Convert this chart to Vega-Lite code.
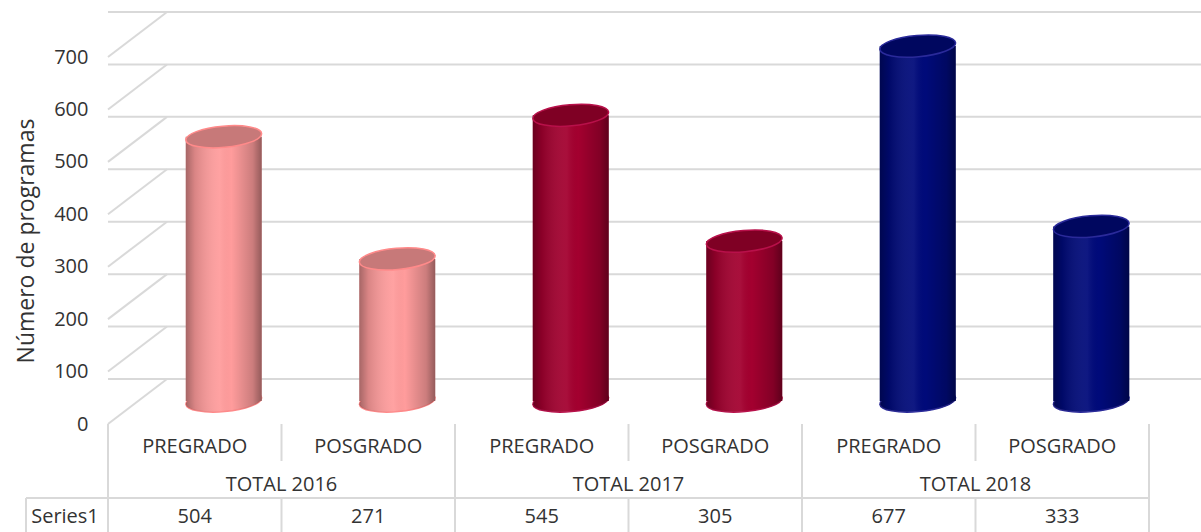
{
  "$schema": "https://vega.github.io/schema/vega-lite/v6.json",
  "width": 1041,
  "height": 367,
  "autosize": {"type": "none"},
  "padding": {"left": 108, "top": 57, "right": 52, "bottom": 108},
  "background": "white",
  "config": {
    "view": {"stroke": null},
    "font": "Open Sans",
    "axis": {
      "labelFont": "Open Sans", "labelFontSize": 20, "labelColor": "#333333",
      "titleFont": "Open Sans", "titleFontSize": 23, "titleFontWeight": "normal", "titleColor": "#333333"
    },
    "axisY": {"ticks": false, "domain": false, "grid": false, "labelPadding": 20, "titlePadding": 15}
  },
  "datasets": {
    "bars": [
      {"cat": "2016 PREGRADO", "level": "PREGRADO", "group": "TOTAL 2016", "value": 504},
      {"cat": "2016 POSGRADO", "level": "POSGRADO", "group": "TOTAL 2016", "value": 271},
      {"cat": "2017 PREGRADO", "level": "PREGRADO", "group": "TOTAL 2017", "value": 545},
      {"cat": "2017 POSGRADO", "level": "POSGRADO", "group": "TOTAL 2017", "value": 305},
      {"cat": "2018 PREGRADO", "level": "PREGRADO", "group": "TOTAL 2018", "value": 677},
      {"cat": "2018 POSGRADO", "level": "POSGRADO", "group": "TOTAL 2018", "value": 333}
    ],
    "grid": [{"v": 0}, {"v": 100}, {"v": 200}, {"v": 300}, {"v": 400}, {"v": 500}, {"v": 600}, {"v": 700}],
    "series": [{"series": "Series1"}]
  },
  "data": {"name": "bars"},
  "layer": [
    {
      "data": {"name": "grid"},
      "mark": {"type": "rule", "color": "#d9d9d9", "strokeWidth": 2, "xOffset": 59, "x2Offset": 59, "yOffset": -45},
      "encoding": {
        "y": {"field": "v", "type": "quantitative", "scale": {"domain": [0, 700], "nice": false},
          "axis": {"title": "Número de programas", "values": [0, 100, 200, 300, 400, 500, 600, 700]}}
      }
    },
    {
      "data": {"name": "grid"},
      "mark": {"type": "rule", "color": "#d9d9d9", "strokeWidth": 2, "x2Offset": 59, "y2Offset": -45},
      "encoding": {
        "x": {"datum": "2016 PREGRADO", "type": "nominal", "bandPosition": 0, "axis": null,
          "scale": {"domain": ["2016 PREGRADO", "2016 POSGRADO", "2017 PREGRADO", "2017 POSGRADO", "2018 PREGRADO", "2018 POSGRADO"], "paddingInner": 0, "paddingOuter": 0}},
        "x2": {"datum": "2016 PREGRADO", "bandPosition": 0},
        "y": {"field": "v", "type": "quantitative"},
        "y2": {"field": "v"}
      }
    },
    {
      "mark": {"type": "point", "shape": "M-1,0A1,0.28,0,1,0,1,0A1,0.28,0,1,0,-1,0Z", "size": 5776, "filled": true, "opacity": 1, "strokeWidth": 1.5, "xOffset": 29, "yOffset": -23, "angle": 355},
      "encoding": {
        "x": {"field": "cat", "type": "nominal", "axis": null, "sort": null,
          "scale": {"domain": ["2016 PREGRADO", "2016 POSGRADO", "2017 PREGRADO", "2017 POSGRADO", "2018 PREGRADO", "2018 POSGRADO"], "paddingInner": 0, "paddingOuter": 0}},
        "y": {"datum": 0, "type": "quantitative"},
        "fill": {"field": "group", "type": "nominal", "legend": null,
          "scale": {"domain": ["TOTAL 2016", "TOTAL 2017", "TOTAL 2018"], "range": ["#ff9c9c", "#a3002f", "#000a7a"]}},
        "stroke": {"field": "group", "type": "nominal", "legend": null,
          "scale": {"domain": ["TOTAL 2016", "TOTAL 2017", "TOTAL 2018"], "range": ["#ff8a8a", "#b8104a", "#2a2a9a"]}}
      }
    },
    {
      "mark": {"type": "point", "shape": "M-1,0A1,0.28,0,1,0,1,0A1,0.28,0,1,0,-1,0Z", "size": 5776, "filled": true, "opacity": 1, "strokeWidth": 0, "xOffset": 29, "yOffset": -23, "angle": 355,
        "fill": {"gradient": "linear", "x1": 0, "x2": 1, "y1": 0, "y2": 0, "stops": [
          {"offset": 0, "color": "rgba(0,0,0,0.35)"}, {"offset": 0.12, "color": "rgba(0,0,0,0.15)"},
          {"offset": 0.45, "color": "rgba(255,255,255,0.06)"}, {"offset": 0.6, "color": "rgba(0,0,0,0)"},
          {"offset": 0.88, "color": "rgba(0,0,0,0.2)"}, {"offset": 1, "color": "rgba(0,0,0,0.42)"}]}},
      "encoding": {
        "x": {"field": "cat", "type": "nominal", "axis": null, "sort": null,
          "scale": {"domain": ["2016 PREGRADO", "2016 POSGRADO", "2017 PREGRADO", "2017 POSGRADO", "2018 PREGRADO", "2018 POSGRADO"], "paddingInner": 0, "paddingOuter": 0}},
        "y": {"datum": 0, "type": "quantitative"}
      }
    },
    {
      "mark": {"type": "bar", "width": {"band": 0.438}, "xOffset": 29, "yOffset": -23, "y2Offset": -23, "fillOpacity": 1},
      "encoding": {
        "x": {"field": "cat", "type": "nominal", "axis": null, "sort": null,
          "scale": {"domain": ["2016 PREGRADO", "2016 POSGRADO", "2017 PREGRADO", "2017 POSGRADO", "2018 PREGRADO", "2018 POSGRADO"], "paddingInner": 0, "paddingOuter": 0}},
        "y": {"field": "value", "type": "quantitative"},
        "fill": {"field": "group", "type": "nominal", "legend": null}
      }
    },
    {
      "mark": {"type": "bar", "width": {"band": 0.438}, "xOffset": 29, "yOffset": -23, "y2Offset": -23,
        "fill": {"gradient": "linear", "x1": 0, "x2": 1, "y1": 0, "y2": 0, "stops": [
          {"offset": 0, "color": "rgba(0,0,0,0.35)"}, {"offset": 0.12, "color": "rgba(0,0,0,0.15)"},
          {"offset": 0.45, "color": "rgba(255,255,255,0.06)"}, {"offset": 0.6, "color": "rgba(0,0,0,0)"},
          {"offset": 0.88, "color": "rgba(0,0,0,0.2)"}, {"offset": 1, "color": "rgba(0,0,0,0.42)"}]}},
      "encoding": {
        "x": {"field": "cat", "type": "nominal", "axis": null, "sort": null,
          "scale": {"domain": ["2016 PREGRADO", "2016 POSGRADO", "2017 PREGRADO", "2017 POSGRADO", "2018 PREGRADO", "2018 POSGRADO"], "paddingInner": 0, "paddingOuter": 0}},
        "y": {"field": "value", "type": "quantitative"}
      }
    },
    {
      "mark": {"type": "point", "shape": "M-1,0A1,0.28,0,1,0,1,0A1,0.28,0,1,0,-1,0Z", "size": 5776, "filled": true, "opacity": 1, "strokeWidth": 0, "xOffset": 29, "yOffset": -23, "angle": 355},
      "encoding": {
        "x": {"field": "cat", "type": "nominal", "axis": null, "sort": null,
          "scale": {"domain": ["2016 PREGRADO", "2016 POSGRADO", "2017 PREGRADO", "2017 POSGRADO", "2018 PREGRADO", "2018 POSGRADO"], "paddingInner": 0, "paddingOuter": 0}},
        "y": {"field": "value", "type": "quantitative"},
        "fill": {"field": "group", "type": "nominal", "legend": null}
      }
    },
    {
      "mark": {"type": "point", "shape": "M-1,0A1,0.28,0,1,0,1,0A1,0.28,0,1,0,-1,0Z", "size": 5776, "filled": true, "opacity": 1, "fill": "#000000", "fillOpacity": 0.22, "strokeWidth": 1.5, "xOffset": 29, "yOffset": -23, "angle": 355},
      "encoding": {
        "x": {"field": "cat", "type": "nominal", "axis": null, "sort": null,
          "scale": {"domain": ["2016 PREGRADO", "2016 POSGRADO", "2017 PREGRADO", "2017 POSGRADO", "2018 PREGRADO", "2018 POSGRADO"], "paddingInner": 0, "paddingOuter": 0}},
        "y": {"field": "value", "type": "quantitative"},
        "stroke": {"field": "group", "type": "nominal", "legend": null}
      }
    },
    {
      "mark": {"type": "rule", "color": "#d9d9d9", "strokeWidth": 2, "y2Offset": 37},
      "encoding": {
        "x": {"field": "cat", "type": "nominal", "bandPosition": 0, "axis": null, "sort": null},
        "y": {"datum": 0, "type": "quantitative"},
        "y2": {"datum": 0}
      }
    },
    {
      "mark": {"type": "rule", "color": "#d9d9d9", "strokeWidth": 2, "yOffset": 74, "y2Offset": 108},
      "encoding": {
        "x": {"field": "cat", "type": "nominal", "bandPosition": 0, "axis": null, "sort": null},
        "y": {"datum": 0, "type": "quantitative"},
        "y2": {"datum": 0}
      }
    },
    {
      "transform": [{"filter": "datum.level === 'PREGRADO'"}],
      "mark": {"type": "rule", "color": "#d9d9d9", "strokeWidth": 2, "y2Offset": 108},
      "encoding": {
        "x": {"field": "cat", "type": "nominal", "bandPosition": 0, "axis": null, "sort": null},
        "y": {"datum": 0, "type": "quantitative"},
        "y2": {"datum": 0}
      }
    },
    {
      "data": {"name": "series"},
      "mark": {"type": "rule", "color": "#d9d9d9", "strokeWidth": 2, "y2Offset": 108},
      "encoding": {
        "x": {"datum": "2018 POSGRADO", "type": "nominal", "bandPosition": 1, "axis": null},
        "y": {"datum": 0, "type": "quantitative"},
        "y2": {"datum": 0}
      }
    },
    {
      "data": {"name": "series"},
      "mark": {"type": "rule", "color": "#d9d9d9", "strokeWidth": 2, "xOffset": -82, "yOffset": 74},
      "encoding": {
        "x": {"datum": "2016 PREGRADO", "type": "nominal", "bandPosition": 0, "axis": null},
        "x2": {"datum": "2018 POSGRADO", "bandPosition": 1},
        "y": {"datum": 0, "type": "quantitative"}
      }
    },
    {
      "data": {"name": "series"},
      "mark": {"type": "rule", "color": "#d9d9d9", "strokeWidth": 2, "xOffset": -82, "yOffset": 74, "y2Offset": 108},
      "encoding": {
        "x": {"datum": "2016 PREGRADO", "type": "nominal", "bandPosition": 0, "axis": null},
        "y": {"datum": 0, "type": "quantitative"},
        "y2": {"datum": 0}
      }
    },
    {
      "mark": {"type": "text", "font": "Open Sans", "fontSize": 20, "color": "#333333", "baseline": "middle", "yOffset": 23},
      "encoding": {
        "x": {"field": "cat", "type": "nominal", "axis": null, "sort": null},
        "y": {"datum": 0, "type": "quantitative"},
        "text": {"field": "level"}
      }
    },
    {
      "transform": [{"filter": "datum.level === 'PREGRADO'"}],
      "mark": {"type": "text", "font": "Open Sans", "fontSize": 20, "color": "#333333", "baseline": "middle", "yOffset": 61},
      "encoding": {
        "x": {"field": "cat", "type": "nominal", "bandPosition": 1, "axis": null, "sort": null},
        "y": {"datum": 0, "type": "quantitative"},
        "text": {"field": "group"}
      }
    },
    {
      "mark": {"type": "text", "font": "Open Sans", "fontSize": 20, "color": "#333333", "baseline": "middle", "yOffset": 93},
      "encoding": {
        "x": {"field": "cat", "type": "nominal", "axis": null, "sort": null},
        "y": {"datum": 0, "type": "quantitative"},
        "text": {"field": "value"}
      }
    },
    {
      "data": {"name": "series"},
      "mark": {"type": "text", "font": "Open Sans", "fontSize": 20, "color": "#333333", "baseline": "middle", "align": "center", "xOffset": -43, "yOffset": 93},
      "encoding": {
        "x": {"datum": "2016 PREGRADO", "type": "nominal", "bandPosition": 0, "axis": null},
        "y": {"datum": 0, "type": "quantitative"},
        "text": {"field": "series"}
      }
    }
  ]
}
